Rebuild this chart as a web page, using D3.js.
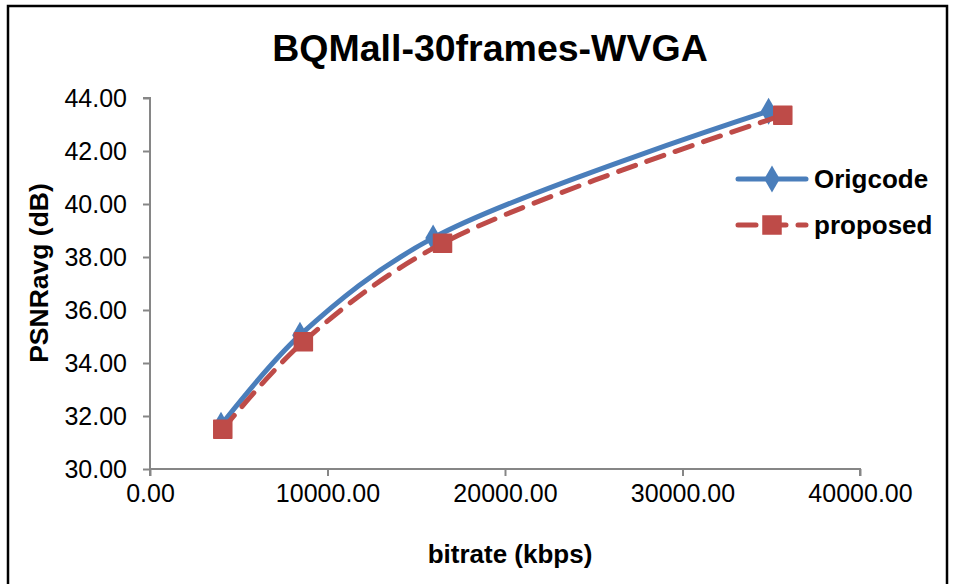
<!DOCTYPE html>
<html>
<head>
<meta charset="utf-8">
<script src="https://cdn.jsdelivr.net/npm/d3@7"></script>
<style>
  body { margin: 0; background: #fff; }
  text { font-family: "Liberation Sans", Arial, sans-serif; }
</style>
</head>
<body>
<div id="chart"></div>
<script>
// data
const seriesNames = ['Origcode', 'proposed']
const origBitrate = [4000, 8450, 15950, 34850]
const origPsnr = [31.65, 35.05, 38.72, 43.50]
const propBitrate = [4100, 8640, 16480, 35650]
const propPsnr = [31.50, 34.80, 38.52, 43.35]
const yTicks = [30, 32, 34, 36, 38, 40, 42, 44]
const xTicks = [0, 10000, 20000, 30000, 40000]

const W = 958, H = 584
const blue = '#4A7EBB', red = '#BE4B48', axisCol = '#868686'

const svg = d3.select('#chart').append('svg')
    .attr('width', W)
    .attr('height', H)

// outer chart border
svg.append('rect')
    .attr('x', 8).attr('y', 6)
    .attr('width', 939).attr('height', 600)
    .attr('fill', 'none')
    .attr('stroke', '#000')
    .attr('stroke-width', 2.5)

const x = d3.scaleLinear().domain([0, 40000]).range([150, 860])
const y = d3.scaleLinear().domain([30, 44]).range([469, 98])

// axes
const yAxis = d3.axisLeft(y).tickValues(yTicks).tickSize(7).tickPadding(16)
    .tickFormat(d3.format('.2f'))
const xAxis = d3.axisBottom(x).tickValues(xTicks).tickSize(7).tickPadding(8)
    .tickFormat(d3.format('.2f'))

const gy = svg.append('g').attr('transform', `translate(${x(0)},0)`).call(yAxis)
const gx = svg.append('g').attr('transform', `translate(0,${y(30)})`).call(xAxis)

;[gx, gy].forEach(g => {
    g.select('.domain').attr('stroke', axisCol).attr('stroke-width', 2)
    g.selectAll('.tick line').attr('stroke', axisCol).attr('stroke-width', 2)
    g.selectAll('.tick text')
        .attr('fill', '#000')
        .style('font-size', '25px')
        .style('font-family', '"Liberation Sans", Arial, sans-serif')
})
gy.select('.domain').attr('d', `M-7,${y(44)}H0V${y(30)}`)
gx.select('.domain').attr('d', `M${x(0)},7V0H${x(40000)}V7`)

// titles
svg.append('text')
    .attr('x', 490).attr('y', 61)
    .attr('text-anchor', 'middle')
    .style('font-size', '37.5px').style('font-weight', 'bold')
    .text('BQMall-30frames-WVGA')

svg.append('text')
    .attr('x', 510).attr('y', 563)
    .attr('text-anchor', 'middle')
    .style('font-size', '26px').style('font-weight', 'bold')
    .text('bitrate (kbps)')

svg.append('text')
    .attr('transform', 'translate(48,273) rotate(-90)')
    .attr('text-anchor', 'middle')
    .style('font-size', '26.5px').style('font-weight', 'bold')
    .text('PSNRavg (dB)')

// series
const orig = origBitrate.map((b, i) => ({ b: b, p: origPsnr[i] }))
const prop = propBitrate.map((b, i) => ({ b: b, p: propPsnr[i] }))

const line = d3.line()
    .x(d => x(d.b))
    .y(d => y(d.p))
    .curve(d3.curveCatmullRom.alpha(0.5))

const diamond = d3.symbol().type(d3.symbolDiamond).size(210)
const square = (cx, cy, s) => `M${cx - s / 2},${cy - s / 2}h${s}v${s}h${-s}Z`

svg.append('path')
    .datum(orig)
    .attr('d', line)
    .attr('fill', 'none')
    .attr('stroke', blue)
    .attr('stroke-width', 5)
    .attr('stroke-linejoin', 'round')

svg.selectAll('.orig-pt')
    .data(orig)
    .join('path')
    .attr('class', 'orig-pt')
    .attr('d', diamond)
    .attr('transform', d => `translate(${x(d.b)},${y(d.p)})`)
    .attr('fill', blue)

svg.append('path')
    .datum(prop)
    .attr('d', line)
    .attr('fill', 'none')
    .attr('stroke', red)
    .attr('stroke-width', 5)
    .attr('stroke-dasharray', '18,12')
    .attr('stroke-linecap', 'round')

svg.selectAll('.prop-pt')
    .data(prop)
    .join('path')
    .attr('class', 'prop-pt')
    .attr('d', d => square(x(d.b), y(d.p), 18))
    .attr('fill', red)
    .attr('stroke', red)
    .attr('stroke-width', 1.5)
    .attr('stroke-linejoin', 'round')

// legend
const legend = svg.append('g')
const legY = [179, 225]
legend.append('line')
    .attr('x1', 738).attr('x2', 806).attr('y1', legY[0]).attr('y2', legY[0])
    .attr('stroke', blue).attr('stroke-width', 5).attr('stroke-linecap', 'round')
legend.append('path')
    .attr('d', diamond)
    .attr('transform', `translate(772,${legY[0]})`)
    .attr('fill', blue)
legend.append('line')
    .attr('x1', 738).attr('x2', 806).attr('y1', legY[1]).attr('y2', legY[1])
    .attr('stroke', red).attr('stroke-width', 5).attr('stroke-linecap', 'round')
    .attr('stroke-dasharray', '18,12')
legend.append('path')
    .attr('d', square(772, legY[1], 18))
    .attr('fill', red).attr('stroke', red).attr('stroke-width', 1.5)

legend.selectAll('.leg-text')
    .data(seriesNames)
    .join('text')
    .attr('class', 'leg-text')
    .attr('x', 814)
    .attr('y', (d, i) => legY[i] + 9)
    .style('font-size', '26px').style('font-weight', 'bold')
    .text(d => d)
</script>
</body>
</html>
